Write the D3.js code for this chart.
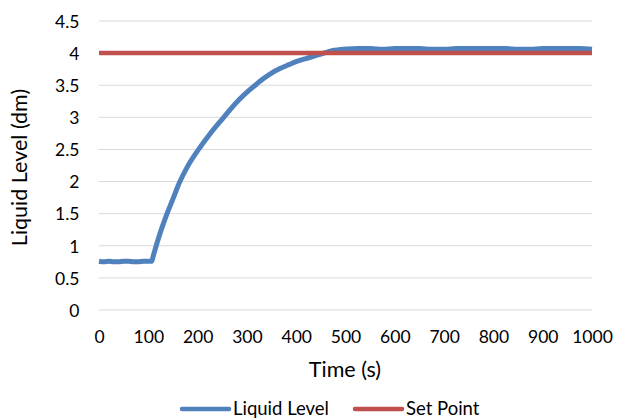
<!DOCTYPE html>
<html>
<head>
<meta charset="utf-8">
<script src="https://cdn.jsdelivr.net/npm/d3@7/dist/d3.min.js"></script>
<style>
  html, body { margin: 0; padding: 0; background: #fff; }
  svg { display: block; font-family: Lato, "Open Sans", sans-serif; }
</style>
</head>
<body>
<svg id="chart" width="620" height="420"></svg>
<script>
// Data
const times = [0, 10, 20, 30, 40, 50, 60, 70, 80, 90, 100, 107, 110, 116, 125, 138, 150, 163, 180, 202, 225, 253, 266, 285, 306, 320, 333, 350, 367, 385, 401, 418, 435, 452, 469, 485, 502, 525, 550, 575, 600, 625, 650, 675, 700, 725, 750, 775, 800, 825, 850, 875, 900, 925, 950, 975, 1000];
const liquidLevel = [0.76, 0.75, 0.76, 0.75, 0.75, 0.76, 0.76, 0.75, 0.75, 0.76, 0.76, 0.76, 0.84, 1.0, 1.22, 1.5, 1.73, 1.98, 2.24, 2.5, 2.74, 3.0, 3.12, 3.28, 3.43, 3.52, 3.60, 3.69, 3.76, 3.82, 3.87, 3.91, 3.95, 3.99, 4.03, 4.05, 4.065, 4.07, 4.07, 4.06, 4.07, 4.07, 4.07, 4.06, 4.06, 4.07, 4.07, 4.07, 4.07, 4.07, 4.06, 4.06, 4.07, 4.07, 4.07, 4.07, 4.06];
const setPointTimes = [0, 1000];
const setPoint = [4, 4];
const xTicks = [0, 100, 200, 300, 400, 500, 600, 700, 800, 900, 1000];
const yTicks = [0, 0.5, 1, 1.5, 2, 2.5, 3, 3.5, 4, 4.5];
const seriesNames = ["Liquid Level", "Set Point"];
const colors = ["#4F81BD", "#C0504D"];
const xTitle = "Time (s)";
const yTitle = "Liquid Level (dm)";

const svg = d3.select("#chart");
const pLeft = 99, pRight = 592, pTop = 21, pBottom = 310;

const x = d3.scaleLinear().domain([0, 1000]).range([pLeft, pRight]);
const y = d3.scaleLinear().domain([0, 4.5]).range([pBottom, pTop]);

// gridlines
svg.append("g").selectAll("line").data(yTicks).join("line")
  .attr("x1", pLeft).attr("x2", pRight)
  .attr("y1", d => y(d)).attr("y2", d => y(d))
  .attr("stroke", "#d9d9d9").attr("stroke-width", 1);

// y axis labels
const yAxis = d3.axisLeft(y).tickValues(yTicks).tickSize(0).tickPadding(0).tickFormat(d3.format(""));
const gy = svg.append("g").attr("transform", `translate(${pLeft - 19.5},0)`).call(yAxis);
gy.select(".domain").remove();
gy.selectAll("text").attr("font-size", 17.5).attr("fill", "#000")
  .attr("font-family", "Lato, sans-serif").attr("dy", "0.36em");

// x axis labels
const xAxis = d3.axisBottom(x).tickValues(xTicks).tickSize(0).tickPadding(0).tickFormat(d3.format(""));
const gx = svg.append("g").attr("transform", `translate(0,${pBottom})`).call(xAxis);
gx.select(".domain").remove();
gx.selectAll("text").attr("font-size", 17.5).attr("fill", "#000")
  .attr("font-family", "Lato, sans-serif").attr("y", 33).attr("dy", null);

const line = d3.line().curve(d3.curveMonotoneX).x(d => x(d[0])).y(d => y(d[1]));

// liquid level
svg.append("path")
  .datum(times.map((t, i) => [t, liquidLevel[i]]))
  .attr("d", line).attr("fill", "none")
  .attr("stroke", colors[0]).attr("stroke-width", 5)
  .attr("stroke-linejoin", "round");

// set point (drawn on top, as in the reference)
svg.append("path")
  .datum(setPointTimes.map((t, i) => [t, setPoint[i]]))
  .attr("d", d3.line().x(d => x(d[0])).y(d => y(d[1]))).attr("fill", "none")
  .attr("stroke", colors[1]).attr("stroke-width", 4.5);

// axis titles
svg.append("text").attr("x", 345).attr("y", 377)
  .attr("text-anchor", "middle").attr("font-size", 21.5).text(xTitle);
svg.append("text")
  .attr("transform", `translate(27,167.5) rotate(-90)`)
  .attr("text-anchor", "middle").attr("font-size", 21.5).text(yTitle);

// legend
const legend = [
  { x1: 182, x2: 229, tx: 233 },
  { x1: 355, x2: 402, tx: 406 }
];
legend.forEach((l, i) => {
  svg.append("line").attr("x1", l.x1).attr("x2", l.x2).attr("y1", 409).attr("y2", 409)
    .attr("stroke", colors[i]).attr("stroke-width", 4.5).attr("stroke-linecap", "round");
  svg.append("text").attr("x", l.tx).attr("y", 415).attr("font-size", 18.5).text(seriesNames[i]);
});
</script>
</body>
</html>
